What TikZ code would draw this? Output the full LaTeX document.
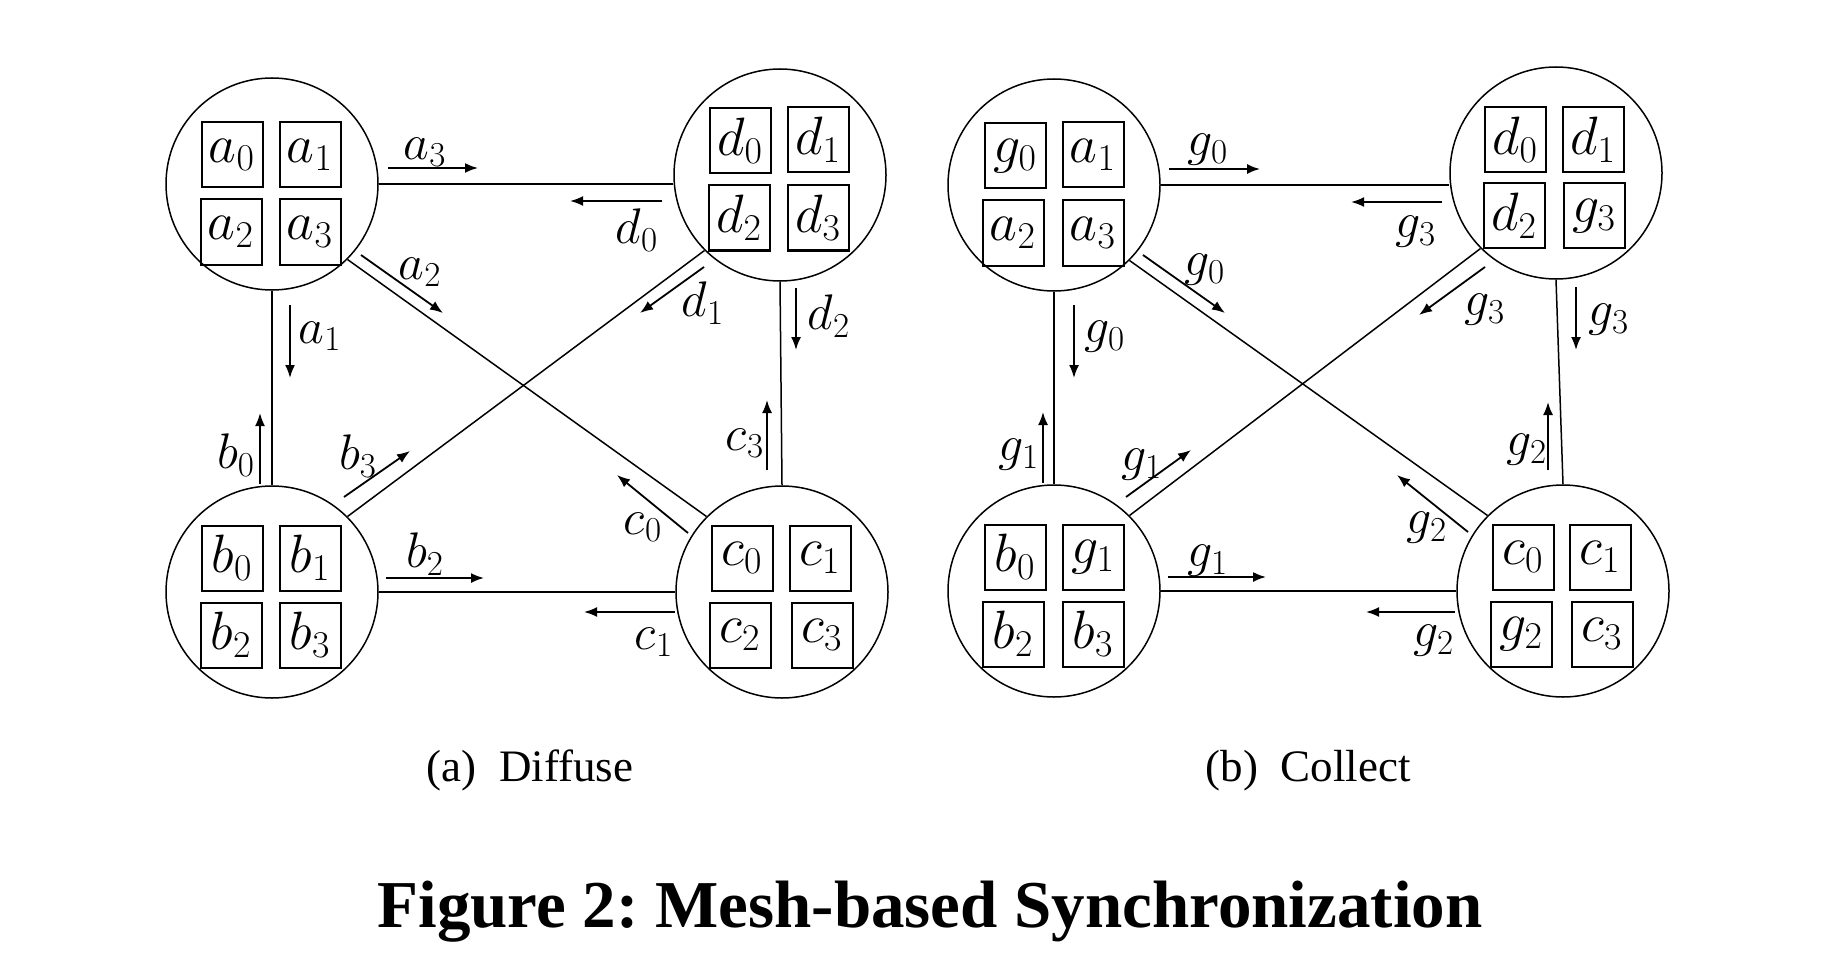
\RequirePackage{fix-cm}
\documentclass[tikz,border=0pt]{standalone}
\usepackage{fontspec}
\newfontfamily\capfont{Liberation Serif}
\usetikzlibrary{arrows.meta}
\frenchspacing
\begin{document}
\begin{tikzpicture}[x=0.5pt,y=-0.5pt,
 proc/.style={circle,draw,line width=0.75pt,minimum size=106pt,inner sep=0},
 cell/.style={draw,line width=1pt,minimum width=30.5pt,minimum height=32.5pt,inner sep=0,font=\fontsize{27}{31}\selectfont},
 lbl/.style={inner sep=0,font=\fontsize{25}{29}\selectfont},
 link/.style={line width=0.75pt},
 arr/.style={line width=0.9pt,-{Latex[length=6.5pt,width=5pt]}},
 captxt/.style={anchor=base,font=\capfont\fontsize{22.5}{26}\selectfont}]
\useasboundingbox (0,0) rectangle (1840,968);

% ---------- (a) Diffuse ----------
\node[proc] (A) at (272,184) {};
\node[proc] (D) at (780,175) {};
\node[proc] (B) at (272,592) {};
\node[proc] (C) at (782,592) {};

\node[cell] (a0) at (232,155) {$a_0$};
\node[cell] (a1) at (310,155) {$a_1$};
\node[cell] (a2) at (231,232) {$a_2$};
\node[cell] (a3) at (310,232) {$a_3$};
\node[cell] (d0) at (740,141) {$d_0$};
\node[cell] (d1) at (818,140) {$d_1$};
\node[cell] (d2) at (739,218) {$d_2$};
\node[cell] (d3) at (818,218) {$d_3$};
\node[cell] (b0) at (232,558) {$b_0$};
\node[cell] (b1) at (310,558) {$b_1$};
\node[cell] (b2) at (231,635) {$b_2$};
\node[cell] (b3) at (310,635) {$b_3$};
\node[cell] (c0) at (742,558) {$c_0$};
\node[cell] (c1) at (820,558) {$c_1$};
\node[cell] (c2) at (740,635) {$c_2$};
\node[cell] (c3) at (822,635) {$c_3$};

\draw[link] (A.east) -- (A.east -| D.west);
\draw[link] (B.east) -- (B.east -| C.west);
\draw[link] (A.south) -- (B.north);
\draw[link] (D.south) -- (C.north);
\draw[link] (A.-45) -- (C.135);
\draw[link] (B.45) -- (D.-135);

\draw[arr] (388,168) -- (478,168);
\node[lbl] (la3) at (425,152) {$a_3$};
\draw[arr] (662,201) -- (570,201);
\node[lbl] (ld0) at (637,230) {$d_0$};
\draw[arr] (361,255) -- (443,313);
\node[lbl] (la2) at (420,272) {$a_2$};
\draw[arr] (704,267) -- (640,313);
\node[lbl] (ld1) at (703,303) {$d_1$};
\draw[arr] (290,305) -- (290,378);
\node[lbl] (la1) at (320,336) {$a_1$};
\draw[arr] (796,288) -- (796,350);
\node[lbl] (ld2) at (829,316) {$d_2$};
\draw[arr] (260,484) -- (260,413);
\node[lbl] (lb0) at (236,455) {$b_0$};
\draw[arr] (767,470) -- (767,400);
\node[lbl] (lc3) at (745,443) {$c_3$};
\draw[arr] (344,497) -- (410,451);
\node[lbl] (lb3) at (358,456) {$b_3$};
\draw[arr] (688,533) -- (617,475);
\node[lbl] (lc0) at (643,527) {$c_0$};
\draw[arr] (386,578) -- (484,578);
\node[lbl] (lb2) at (425,554) {$b_2$};
\draw[arr] (675,612) -- (584,612);
\node[lbl] (lc1) at (654,642) {$c_1$};

\node[captxt] (capA) at (530,781) {(a)\hspace{0.5em}Diffuse};

% ---------- (b) Collect ----------
\node[proc] (G) at (1054,185) {};
\node[proc] (E) at (1556,173) {};
\node[proc] (F) at (1054,591) {};
\node[proc] (H) at (1563,591) {};

\node[cell] (g0a) at (1015,156) {$g_0$};
\node[cell] (a1b) at (1093,155) {$a_1$};
\node[cell] (a2b) at (1013,233) {$a_2$};
\node[cell] (a3b) at (1093,233) {$a_3$};
\node[cell] (d0b) at (1515,140) {$d_0$};
\node[cell] (d1b) at (1593,140) {$d_1$};
\node[cell] (d2b) at (1514,216) {$d_2$};
\node[cell] (g3d) at (1594,216) {$g_3$};
\node[cell] (b0b) at (1015,557) {$b_0$};
\node[cell] (g1b) at (1093,557) {$g_1$};
\node[cell] (b2b) at (1013,634) {$b_2$};
\node[cell] (b3b) at (1093,634) {$b_3$};
\node[cell] (c0b) at (1523,557) {$c_0$};
\node[cell] (c1b) at (1600,557) {$c_1$};
\node[cell] (g2c) at (1521,634) {$g_2$};
\node[cell] (c3b) at (1602,634) {$c_3$};

\draw[link] (G.east) -- (G.east -| E.west);
\draw[link] (F.east) -- (F.east -| H.west);
\draw[link] (G.south) -- (F.north);
\draw[link] (E.south) -- (H.north);
\draw[link] (G.-45) -- (H.135);
\draw[link] (F.45) -- (E.-135);

\draw[arr] (1169,169) -- (1260,169);
\node[lbl] (mg0a) at (1208,150) {$g_0$};
\draw[arr] (1442,202) -- (1351,202);
\node[lbl] (mg3a) at (1416,232) {$g_3$};
\draw[arr] (1143,255) -- (1225,313);
\node[lbl] (mg0b) at (1205,270) {$g_0$};
\draw[arr] (1485,267) -- (1419,315);
\node[lbl] (mg3b) at (1485,310) {$g_3$};
\draw[arr] (1074,305) -- (1074,378);
\node[lbl] (mg0c) at (1105,337) {$g_0$};
\draw[arr] (1576,287) -- (1576,350);
\node[lbl] (mg3c) at (1609,320) {$g_3$};
\draw[arr] (1043,483) -- (1043,412);
\node[lbl] (mg1a) at (1019,455) {$g_1$};
\draw[arr] (1548,470) -- (1548,402);
\node[lbl] (mg2a) at (1527,450) {$g_2$};
\draw[arr] (1126,497) -- (1191,450);
\node[lbl] (mg1b) at (1142,465) {$g_1$};
\draw[arr] (1468,532) -- (1397,475);
\node[lbl] (mg2b) at (1427,528) {$g_2$};
\draw[arr] (1168,577) -- (1266,577);
\node[lbl] (mg1c) at (1208,561) {$g_1$};
\draw[arr] (1455,612) -- (1366,612);
\node[lbl] (mg2c) at (1434,641) {$g_2$};

\node[captxt] (capB) at (1308,781) {(b)\hspace{0.5em}Collect};

\node[anchor=base,font=\capfont\bfseries\fontsize{33.5}{40}\selectfont] (title) at (930,927) {Figure 2: Mesh-based Synchronization};
\end{tikzpicture}
\end{document}
